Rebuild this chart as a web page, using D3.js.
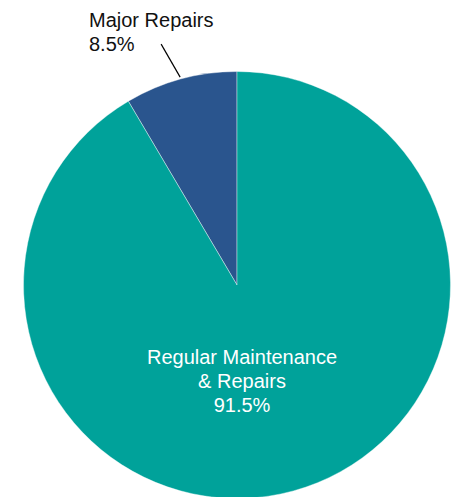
<!DOCTYPE html>
<html>
<head>
<meta charset="utf-8">
<script src="https://cdn.jsdelivr.net/npm/d3@7"></script>
<style>
  body { margin: 0; background: #fff; }
  svg { display: block; font-family: "Liberation Sans", Arial, Helvetica, sans-serif; }
</style>
</head>
<body>
<svg id="chart"></svg>
<script>
const categories = ["Major Repairs", "Regular Maintenance & Repairs"];
const values = [8.5, 91.5];
const colors = ["#2a558e", "#00a29a"];

const width = 459;
const height = 497;
const cx = 237;
const cy = 285;
const radius = 213.5;

const svg = d3.select("#chart").attr("width", width).attr("height", height);

const data = categories.map((c, i) => ({ name: c, value: values[i], color: colors[i] }));

// Major Repairs sits just left of 12 o'clock, so run the pie counterclockwise
const pie = d3.pie()
  .value((d) => d.value)
  .sort(null)
  .startAngle(0)
  .endAngle(-2 * Math.PI);

const arc = d3.arc().innerRadius(0).outerRadius(radius);

const g = svg.append("g").attr("transform", "translate(" + cx + "," + cy + ")");

const arcs = pie(data);

g.selectAll("path")
  .data(arcs)
  .join("path")
  .attr("d", arc)
  .attr("fill", (d) => d.data.color)
  .attr("stroke", "#fff")
  .attr("stroke-width", 0.4);

// outside label for the small slice
const small = arcs[0];
const mid = (small.startAngle + small.endAngle) / 2;
const p1 = [Math.sin(mid) * (radius + 2), -Math.cos(mid) * (radius + 2)];
g.append("line")
  .attr("x1", p1[0])
  .attr("y1", p1[1])
  .attr("x2", p1[0] - 19)
  .attr("y2", p1[1] - 33)
  .attr("stroke", "#000")
  .attr("stroke-width", 1.2);

const outLabel = svg.append("text")
  .attr("x", 89)
  .attr("y", 27)
  .attr("font-size", 20)
  .attr("fill", "#111");
outLabel.append("tspan").attr("x", 89).text(small.data.name);
outLabel.append("tspan").attr("x", 89).attr("dy", 24).text(small.data.value + "%");

// inside label for the big slice
const big = arcs[1];
const inLabel = svg.append("text")
  .attr("text-anchor", "middle")
  .attr("font-size", 20)
  .attr("fill", "#fff")
  .attr("y", 364);
inLabel.append("tspan").attr("x", 242).text("Regular Maintenance");
inLabel.append("tspan").attr("x", 242).attr("dy", 24).text("& Repairs");
inLabel.append("tspan").attr("x", 242).attr("dy", 24).text(big.data.value + "%");
</script>
</body>
</html>
